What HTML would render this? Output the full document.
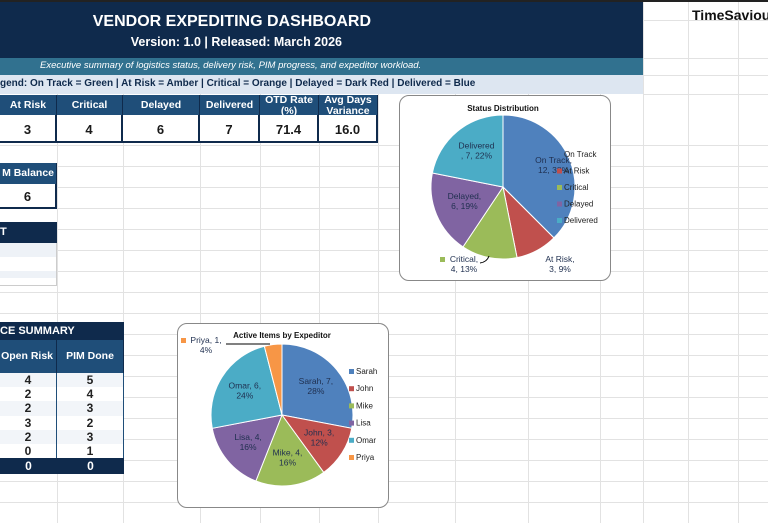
<!DOCTYPE html>
<html><head><meta charset="utf-8">
<style>
body{margin:0;width:768px;height:523px;overflow:hidden;background:#fff;font-family:"Liberation Sans",sans-serif;position:relative}
.a{position:absolute;box-sizing:border-box}
.nav{background:#0f2a4c;color:#fff}
.hd{background:#1f4e79;color:#fff;font-weight:bold;font-size:10.5px;text-align:center;border-right:1px solid #0f2a4c;white-space:nowrap;overflow:hidden}
.v{background:#fff;color:#1a1a1a;font-weight:bold;font-size:13px;text-align:center;border-right:2px solid #0f2a4c;border-bottom:2px solid #0f2a4c}
.gl{position:absolute;background:#e2e2e2}
.box{position:absolute;border:1px solid #888;border-radius:10px;background:#fff;box-sizing:border-box}
</style></head><body>
<div id="grid"></div>
<div class="a" style="left:0;top:0;width:768px;height:2px;background:#222"></div>
<div class="a nav" style="left:0;top:2px;width:643px;height:56px"></div>
<div class="a" style="left:0;top:13px;width:371px;text-align:right;color:#fff;font-weight:bold;font-size:16px;white-space:nowrap">VENDOR EXPEDITING DASHBOARD</div>
<div class="a" style="left:0;top:35px;width:342px;text-align:right;color:#fff;font-weight:bold;font-size:12.5px;white-space:nowrap">Version: 1.0 | Released: March 2026</div>
<div class="a" style="left:0;top:58px;width:643px;height:17px;background:#31718f;color:#fff;font-style:italic;font-size:9.5px;padding:2px 0 0 40px">Executive summary of logistics status, delivery risk, PIM progress, and expeditor workload.</div>
<div class="a" style="left:0;top:75px;width:643px;height:19px;background:#dde6f1;color:#0f2a4c;font-weight:bold;font-size:10px;padding:3px 0 0 0;white-space:nowrap;overflow:hidden">gend: On Track = Green | At Risk = Amber | Critical = Orange | Delayed = Dark Red | Delivered = Blue</div>

<div class="a hd" style="left:0;top:95px;width:57px;height:20px;padding-top:4px">At Risk</div>
<div class="a hd" style="left:57px;top:95px;width:66px;height:20px;padding-top:4px">Critical</div>
<div class="a hd" style="left:123px;top:95px;width:77px;height:20px;padding-top:4px">Delayed</div>
<div class="a hd" style="left:200px;top:95px;width:60px;height:20px;padding-top:4px">Delivered</div>
<div class="a hd" style="left:260px;top:95px;width:59px;height:20px;line-height:11px;padding-top:0">OTD Rate<br>(%)</div>
<div class="a hd" style="left:319px;top:95px;width:59px;height:20px;line-height:11px;padding-top:0">Avg Days<br>Variance</div>
<div class="a v" style="left:0;top:115px;width:57px;height:28px;padding-top:7px">3</div>
<div class="a v" style="left:57px;top:115px;width:66px;height:28px;padding-top:7px">4</div>
<div class="a v" style="left:123px;top:115px;width:77px;height:28px;padding-top:7px">6</div>
<div class="a v" style="left:200px;top:115px;width:60px;height:28px;padding-top:7px">7</div>
<div class="a v" style="left:260px;top:115px;width:59px;height:28px;padding-top:7px">71.4</div>
<div class="a v" style="left:319px;top:115px;width:59px;height:28px;padding-top:7px">16.0</div>

<div class="a hd" style="left:0;top:163px;width:57px;height:21px;padding-top:4px;text-align:right;padding-right:2px;direction:rtl">M Balance</div>
<div class="a v" style="left:0;top:184px;width:57px;height:25px;padding-top:5px">6</div>

<div class="a nav" style="left:0;top:222px;width:57px;height:21px;font-weight:bold;font-size:11px;padding:4px 0 0 0">T</div>
<div class="a" style="left:0;top:243px;width:57px;height:43px;border-right:1px solid #ccc;border-bottom:1px solid #ccc;background:linear-gradient(#eef2f7 0 14px,#fff 14px 28px,#eef2f7 28px 35px,#fff 35px)"></div>

<div class="a nav" style="left:0;top:322px;width:124px;height:18px;font-weight:bold;font-size:11px;padding-top:3px">CE SUMMARY</div>
<div class="a hd" style="left:0;top:340px;width:57px;height:33px;padding-top:10px;text-align:right;padding-right:3px;direction:rtl">Open Risk</div>
<div class="a hd" style="left:57px;top:340px;width:67px;height:33px;padding-top:10px">PIM Done</div>
<div id="sumrows"></div>

<div class="a" style="left:692px;top:7px;font-weight:bold;font-size:14px;color:#111">TimeSaviou</div>

<div class="box" style="left:399px;top:95px;width:212px;height:186px"></div>
<div class="box" style="left:177px;top:323px;width:212px;height:185px"></div>
<svg class="a" style="left:0;top:0" width="768" height="523" id="svg" font-family="Liberation Sans, sans-serif"></svg>

<script>
const openRisk=[4,2,2,3,2,0];
const pimDone=[5,4,3,2,3,1];
const statusCats=["On Track","At Risk","Critical","Delayed","Delivered"];
const statusVals=[12,3,4,6,7];
const expCats=["Sarah","John","Mike","Lisa","Omar","Priya"];
const expVals=[7,3,4,4,6,1];
const colors=["#4f81bd","#c0504d","#9bbb59","#8064a2","#4bacc6","#f79646"];

const g=document.getElementById('grid');
[57,123,200,260,319,378,455,528,600,643,688,738].forEach(x=>{const d=document.createElement('div');d.className='gl';d.style.cssText=`left:${x}px;top:0;width:1px;height:523px`;g.appendChild(d);});
for(let y=145;y<523;y+=21){const d=document.createElement('div');d.className='gl';d.style.cssText=`left:0;top:${y}px;width:768px;height:1px`;g.appendChild(d);}
[20,58,75,94].forEach(y=>{const d=document.createElement('div');d.className='gl';d.style.cssText=`left:643px;top:${y}px;width:125px;height:1px`;g.appendChild(d);});

const sr=document.getElementById('sumrows');
for(let i=0;i<=openRisk.length;i++){
  const last=i===openRisk.length;
  const y=373+i*14.2;
  [[0,57,last?0:openRisk[i]],[57,67,last?0:pimDone[i]]].forEach(([x,w,t])=>{
    const d=document.createElement('div');d.className='a';
    d.style.cssText=`left:${x}px;top:${y}px;width:${w}px;height:${last?16:14.2}px;text-align:center;font-weight:bold;font-size:12px;line-height:${last?16:14}px;${last?'background:#0f2a4c;color:#fff':'background:'+(i%2?'#fff':'#f2f5f9')+';color:#222;border-right:1px solid #1f4e79'}`;
    d.textContent=t;
    
    
    sr.appendChild(d);
  });
}

const svg=document.getElementById('svg');const NS='http://www.w3.org/2000/svg';
function el(t,a,txt){const e=document.createElementNS(NS,t);for(const k in a)e.setAttribute(k,a[k]);if(txt!==undefined)e.textContent=txt;svg.appendChild(e);return e;}
function pie(cx,cy,r,cats,vals,name){
  const tot=vals.reduce((a,b)=>a+b,0);let a0=-Math.PI/2;const mids=[];
  vals.forEach((v,i)=>{
    const a1=a0+v/tot*2*Math.PI;
    const x0=cx+r*Math.cos(a0),y0=cy+r*Math.sin(a0),x1=cx+r*Math.cos(a1),y1=cy+r*Math.sin(a1);
    const p=el('path',{d:`M${cx},${cy}L${x0},${y0}A${r},${r} 0 ${a1-a0>Math.PI?1:0} 1 ${x1},${y1}Z`,fill:colors[i],stroke:'#fff','stroke-width':1});
    
    
    mids.push({a:(a0+a1)/2,pct:Math.round(v/tot*100),v:v});
    a0=a1;
  });
  return mids;
}
function lbl(x,y,lines,name){
  const t=el('text',{x:x,y:y,'font-size':8.5,fill:'#1f2f4f','text-anchor':'middle'});
  
  lines.forEach((l,i)=>{const s=document.createElementNS(NS,'tspan');s.setAttribute('x',x);s.setAttribute('dy',i?10:0);s.textContent=l;t.appendChild(s);});
}
el('text',{x:503,y:111,'font-size':8,'font-weight':'bold','text-anchor':'middle',fill:'#111'},'Status Distribution');
const sm=pie(503,187,72,statusCats,statusVals,'status');
sm.forEach((m,i)=>{
  const x=503+72*0.58*Math.cos(m.a),y=187+72*0.58*Math.sin(m.a);
  const pv=m.v+', '+m.pct+'%';
  if(i===0) lbl(x+12,y-8,['On Track,',pv],'status-label-on-track');
  else if(i===1) lbl(560,262,['At Risk,',pv],'status-label-at-risk');
  else if(i===2){ lbl(464,262,['Critical,',pv],'status-label-critical'); el('rect',{x:440,y:257,width:5,height:5,fill:colors[2]}); el('path',{d:'M480,263Q487,262 489,256',stroke:'#000',fill:'none'}); }
  else if(i===4) lbl(x,y-6,[statusCats[i],', '+pv],'status-label-delivered');
  else lbl(x,y-4,[statusCats[i]+',',pv],'status-label-delayed');
});
statusCats.forEach((c,i)=>{
  const y=157+i*16.5;
  const r=el('rect',{x:557,y:y-5,width:5,height:5,fill:colors[i]});
  
  const t=el('text',{x:564,y:y,'font-size':8,fill:'#222'},c);
  
});
el('text',{x:282,y:338,'font-size':8,'font-weight':'bold','text-anchor':'middle',fill:'#111'},'Active Items by Expeditor');
const em=pie(282,415,71,expCats,expVals,'expeditor');
em.forEach((m,i)=>{
  if(i===5){lbl(206,343,['Priya, 1,','4%'],'expeditor-label-priya');el('path',{d:'M226,344L270,344',stroke:'#000','stroke-width':1,fill:'none'});el('rect',{x:181,y:338,width:5,height:5,fill:colors[5]});return;}
  const x=282+71*0.62*Math.cos(m.a),y=415+71*0.62*Math.sin(m.a);
  lbl(x,y-3,[expCats[i]+', '+m.v+',',m.pct+'%'],'expeditor-label-'+expCats[i].toLowerCase());
});
expCats.forEach((c,i)=>{
  const y=374+i*17.2;
  const r=el('rect',{x:349,y:y-5,width:5,height:5,fill:colors[i]});
  
  const t=el('text',{x:356,y:y,'font-size':8,fill:'#222'},c);
  
});
</script>
</body></html>
